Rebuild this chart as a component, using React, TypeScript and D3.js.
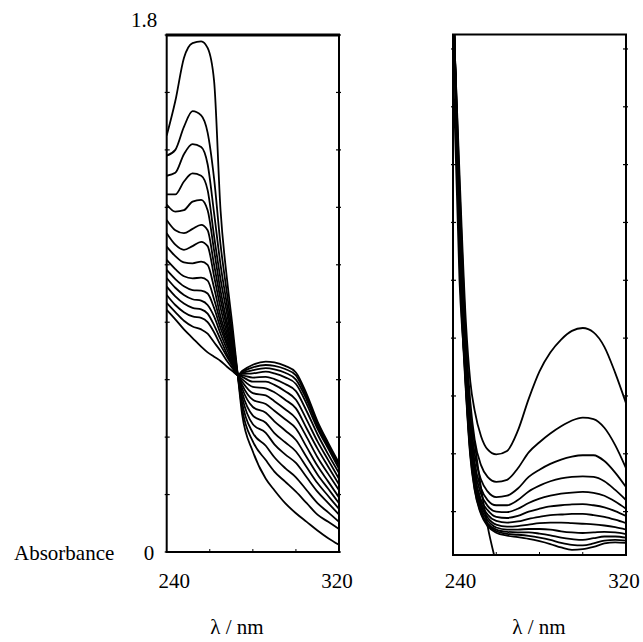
import React from "react";
import * as d3 from "d3";

// ---------- data ----------
const leftWavelengths = [240, 244, 248, 252, 256, 259, 262, 265, 268, 270.5, 273, 275, 280, 286, 290, 295, 300, 305, 310, 315, 320];
const leftSeries: number[][] = [
  [1.45, 1.57, 1.72, 1.772, 1.778, 1.755, 1.64, 1.19, 0.95, 0.79, 0.616, 0.48, 0.35, 0.255, 0.215, 0.17, 0.135, 0.105, 0.075, 0.048, 0.025],
  [1.38, 1.40, 1.48, 1.535, 1.52, 1.46, 1.30, 1.07, 0.90, 0.76, 0.616, 0.50, 0.385, 0.32, 0.28, 0.245, 0.21, 0.17, 0.13, 0.105, 0.08],
  [1.31, 1.32, 1.385, 1.42, 1.41, 1.35, 1.18, 1.00, 0.86, 0.74, 0.616, 0.52, 0.415, 0.37, 0.33, 0.292, 0.26, 0.215, 0.17, 0.138, 0.105],
  [1.245, 1.245, 1.29, 1.318, 1.31, 1.26, 1.10, 0.95, 0.83, 0.725, 0.616, 0.54, 0.445, 0.415, 0.375, 0.34, 0.31, 0.26, 0.21, 0.17, 0.13],
  [1.21, 1.185, 1.19, 1.22, 1.226, 1.19, 1.05, 0.91, 0.80, 0.71, 0.616, 0.555, 0.475, 0.45, 0.414, 0.382, 0.35, 0.295, 0.24, 0.195, 0.15],
  [1.156, 1.12, 1.11, 1.125, 1.139, 1.12, 1.00, 0.88, 0.78, 0.70, 0.616, 0.57, 0.505, 0.485, 0.455, 0.423, 0.39, 0.33, 0.27, 0.22, 0.17],
  [1.11, 1.07, 1.052, 1.065, 1.08, 1.065, 0.96, 0.85, 0.76, 0.69, 0.616, 0.582, 0.53, 0.515, 0.492, 0.462, 0.43, 0.365, 0.30, 0.245, 0.19],
  [1.063, 1.03, 1.008, 1.005, 1.011, 1.0, 0.92, 0.82, 0.745, 0.68, 0.616, 0.593, 0.553, 0.545, 0.525, 0.497, 0.465, 0.40, 0.33, 0.272, 0.215],
  [1.017, 0.985, 0.96, 0.953, 0.955, 0.945, 0.88, 0.80, 0.73, 0.675, 0.616, 0.602, 0.575, 0.57, 0.556, 0.53, 0.50, 0.43, 0.36, 0.297, 0.235],
  [0.982, 0.95, 0.925, 0.912, 0.91, 0.90, 0.85, 0.78, 0.72, 0.67, 0.616, 0.61, 0.593, 0.593, 0.582, 0.56, 0.53, 0.46, 0.385, 0.32, 0.255],
  [0.954, 0.92, 0.895, 0.88, 0.875, 0.86, 0.82, 0.76, 0.705, 0.66, 0.616, 0.615, 0.607, 0.61, 0.602, 0.585, 0.56, 0.49, 0.41, 0.34, 0.275],
  [0.924, 0.89, 0.865, 0.85, 0.845, 0.83, 0.79, 0.74, 0.69, 0.655, 0.616, 0.62, 0.622, 0.628, 0.622, 0.608, 0.585, 0.515, 0.43, 0.36, 0.29],
  [0.895, 0.86, 0.835, 0.82, 0.815, 0.80, 0.765, 0.72, 0.68, 0.648, 0.616, 0.623, 0.633, 0.64, 0.636, 0.624, 0.60, 0.53, 0.44, 0.368, 0.30],
  [0.867, 0.835, 0.805, 0.785, 0.775, 0.76, 0.73, 0.70, 0.665, 0.64, 0.616, 0.627, 0.643, 0.651, 0.648, 0.637, 0.615, 0.54, 0.45, 0.375, 0.305],
  [0.843, 0.81, 0.775, 0.745, 0.715, 0.695, 0.68, 0.665, 0.645, 0.63, 0.616, 0.63, 0.652, 0.663, 0.66, 0.648, 0.625, 0.55, 0.455, 0.38, 0.31],
];

const rightWavelengths = [240, 243, 246, 248, 250, 253, 256, 260, 265, 270, 275, 280, 285, 290, 295, 300, 305, 310, 315, 320];
const rightSeries: (number | null)[][] = [
  [1.70, 0.95, 0.62, 0.48, 0.385, 0.23, 0.10, -0.03, null, null, null, null, null, null, null, null, null, null, null, null],
  [1.90, 1.32, 0.80, 0.60, 0.50, 0.41, 0.365, 0.348, 0.36, 0.43, 0.54, 0.635, 0.70, 0.745, 0.775, 0.785, 0.77, 0.72, 0.63, 0.525],
  [1.92, 1.28, 0.75, 0.53, 0.40, 0.31, 0.27, 0.253, 0.26, 0.30, 0.355, 0.39, 0.42, 0.445, 0.465, 0.475, 0.47, 0.44, 0.38, 0.30],
  [1.93, 1.24, 0.71, 0.48, 0.35, 0.26, 0.22, 0.20, 0.205, 0.23, 0.27, 0.295, 0.315, 0.33, 0.34, 0.345, 0.345, 0.325, 0.285, 0.235],
  [1.94, 1.21, 0.68, 0.45, 0.32, 0.23, 0.19, 0.172, 0.172, 0.19, 0.22, 0.24, 0.255, 0.265, 0.27, 0.272, 0.27, 0.255, 0.225, 0.19],
  [1.95, 1.18, 0.66, 0.43, 0.30, 0.21, 0.17, 0.15, 0.148, 0.16, 0.18, 0.195, 0.205, 0.212, 0.216, 0.218, 0.215, 0.205, 0.185, 0.16],
  [1.95, 1.15, 0.64, 0.41, 0.28, 0.19, 0.155, 0.132, 0.128, 0.135, 0.15, 0.16, 0.168, 0.172, 0.175, 0.176, 0.172, 0.165, 0.152, 0.135],
  [1.96, 1.13, 0.62, 0.39, 0.27, 0.18, 0.14, 0.118, 0.112, 0.116, 0.125, 0.132, 0.138, 0.14, 0.142, 0.142, 0.138, 0.132, 0.122, 0.11],
  [1.96, 1.11, 0.60, 0.38, 0.26, 0.17, 0.13, 0.105, 0.098, 0.1, 0.105, 0.11, 0.112, 0.112, 0.11, 0.108, 0.106, 0.102, 0.096, 0.088],
  [1.97, 1.09, 0.59, 0.37, 0.25, 0.16, 0.12, 0.095, 0.088, 0.088, 0.09, 0.09, 0.088, 0.082, 0.078, 0.076, 0.078, 0.08, 0.078, 0.072],
  [1.97, 1.07, 0.58, 0.36, 0.24, 0.15, 0.11, 0.088, 0.08, 0.078, 0.078, 0.074, 0.068, 0.06, 0.055, 0.052, 0.058, 0.064, 0.064, 0.06],
  [1.98, 1.05, 0.57, 0.35, 0.23, 0.145, 0.105, 0.082, 0.073, 0.07, 0.066, 0.06, 0.052, 0.042, 0.035, 0.033, 0.04, 0.05, 0.052, 0.05],
  [1.98, 1.03, 0.56, 0.34, 0.225, 0.14, 0.10, 0.077, 0.067, 0.062, 0.056, 0.048, 0.038, 0.026, 0.018, 0.02, 0.028, 0.04, 0.044, 0.042],
];

const leftYTicks = [0, 0.2, 0.4, 0.6, 0.8, 1.0, 1.2, 1.4, 1.6, 1.8];
const rightYTicks = [0.15, 0.35, 0.55, 0.75, 0.95, 1.15, 1.35, 1.55, 1.75];
const xMinorTicks = [260, 280, 300];
const xTickLabels = [240, 320];
const yLabelTop = "1.8";
const yLabelBottom = "0";
const yAxisTitle = "Absorbance";
const xAxisTitle = "λ / nm";

const FONT = "'Liberation Serif', 'Times New Roman', serif";

type PanelProps = {
  id: string;
  x0: number; x1: number; y0: number; y1: number;
  wavelengths: number[];
  series: (number | null)[][];
  yTicks: number[];
  titleX: number;
  topWidth: number;
};

function Panel({ id, x0, x1, y0, y1, wavelengths, series, yTicks, titleX, topWidth }: PanelProps) {
  const x = d3.scaleLinear().domain([240, 320]).range([x0, x1]);
  const y = d3.scaleLinear().domain([0, 1.8]).range([y1, y0]);
  const line = d3
    .line<number | null>()
    .defined((d) => d !== null)
    .x((_, i) => x(wavelengths[i]))
    .y((d) => y(d as number))
    .curve(d3.curveMonotoneX);
  return (
    <g>
      <defs>
        <clipPath id={id}>
          <rect x={x0} y={y0} width={x1 - x0} height={y1 - y0} />
        </clipPath>
      </defs>
      <g clipPath={`url(#${id})`}>
        {series.map((s, i) => (
          <path key={i} d={line(s) || ""} fill="none" stroke="#000" strokeWidth={1.8} strokeLinejoin="round" />
        ))}
      </g>
      {/* frame */}
      <line x1={x0} x2={x0} y1={y0} y2={y1} stroke="#000" strokeWidth={2} />
      <line x1={x1} x2={x1} y1={y0} y2={y1} stroke="#000" strokeWidth={2} />
      <line x1={x0 - 1} x2={x1 + 1} y1={y1} y2={y1} stroke="#000" strokeWidth={2} />
      <line x1={x0 - 1} x2={x1 + 1} y1={y0} y2={y0} stroke="#000" strokeWidth={topWidth} />
      {/* y ticks */}
      {yTicks.map((t) => (
        <g key={t}>
          <line x1={x0 - 2} x2={x0 + 3} y1={y(t)} y2={y(t)} stroke="#000" strokeWidth={1.2} />
          <line x1={x1 - 3} x2={x1 + 2} y1={y(t)} y2={y(t)} stroke="#000" strokeWidth={1.2} />
        </g>
      ))}
      {xMinorTicks.map((t) => (
        <line key={t} x1={x(t)} x2={x(t)} y1={y1 - 3} y2={y1 + 1} stroke="#000" strokeWidth={1} />
      ))}
      {xTickLabels.map((t, i) => (
        <text key={t} x={x(t) + (i === 0 ? 7.5 : -2)} y={588} textAnchor="middle" fontFamily={FONT} fontSize={21}>
          {t}
        </text>
      ))}
      <text x={titleX} y={634} textAnchor="middle" fontFamily={FONT} fontSize={21}>
        {xAxisTitle}
      </text>
    </g>
  );
}

export default function App() {
  return (
    <svg
      width={643}
      height={642}
      style={{ position: "absolute", left: 0, top: 0, background: "#fff" }}
    >
      <rect x={0} y={0} width={643} height={642} fill="#fff" />
      <Panel
        id="clipL"
        x0={166.7}
        x1={339}
        y0={35}
        y1={552}
        wavelengths={leftWavelengths}
        series={leftSeries}
        yTicks={leftYTicks}
        titleX={237}
        topWidth={3}
      />
      <Panel
        id="clipR"
        x0={453}
        x1={626}
        y0={34.5}
        y1={555}
        wavelengths={rightWavelengths}
        series={rightSeries}
        yTicks={rightYTicks}
        titleX={539}
        topWidth={2}
      />
      <text x={144} y={27} textAnchor="middle" fontFamily={FONT} fontSize={21}>
        {yLabelTop}
      </text>
      <text x={149} y={560} textAnchor="middle" fontFamily={FONT} fontSize={21}>
        {yLabelBottom}
      </text>
      <text x={14} y={560} fontFamily={FONT} fontSize={21}>
        {yAxisTitle}
      </text>
    </svg>
  );
}
